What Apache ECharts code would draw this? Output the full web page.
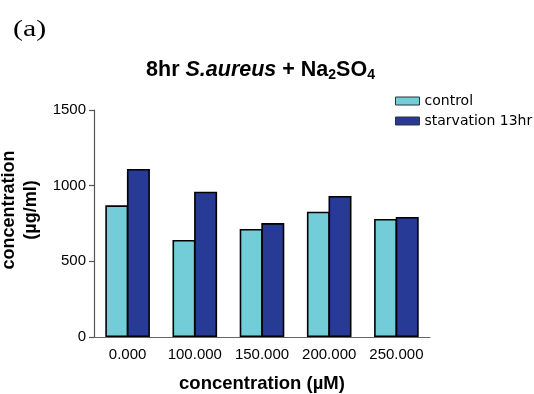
<!DOCTYPE html>
<html>
<head>
<meta charset="utf-8">
<script src="https://cdn.jsdelivr.net/npm/echarts@6/dist/echarts.min.js"></script>
<style>
  html, body { margin: 0; padding: 0; background: #fff; }
  #chart { width: 534px; height: 394px; }
</style>
</head>
<body>
<div id="chart"></div>
<script>
// Sulfate concentrations tested (µM)
const categories = ['0.000', '100.000', '150.000', '200.000', '250.000'];
// Measured concentration (µg/ml) per condition
const controlValues = [870, 641, 714, 828, 780];
const starvationValues = [1110, 960, 753, 932, 793];
const seriesNames = ['control', 'starvation 13hr'];
const yTicks = { min: 0, max: 1500, interval: 500 };

const SANS = 'Liberation Sans, Arial, Helvetica, sans-serif';
const chart = echarts.init(document.getElementById('chart'), null, { renderer: 'canvas' });

const barBorder = { borderColor: '#000', borderWidth: 1.6 };

chart.setOption({
  animation: false,
  backgroundColor: '#fff',
  graphic: [
    {
      // panel letter
      type: 'text',
      left: 13,
      top: 18,
      scaleX: 1.3,
      style: { text: '(a)', font: 'normal 23px "Liberation Serif", "Times New Roman", serif', fill: '#000' }
    }
  ],
  title: {
    text: '{b|8hr }{i|S.aureus}{b| + Na}{s|2}{b|SO}{s|4}',
    left: 255.5,
    top: 53,
    textAlign: 'center',
    textStyle: {
      rich: {
        b: { fontFamily: SANS, fontSize: 21.5, fontWeight: 'bold', color: '#000', lineHeight: 24 },
        i: { fontFamily: SANS, fontSize: 21.5, fontWeight: 'bold', fontStyle: 'italic', color: '#000', lineHeight: 24 },
        s: { fontFamily: SANS, fontSize: 14, fontWeight: 'bold', color: '#000', lineHeight: 10, verticalAlign: 'bottom' }
      }
    }
  },
  legend: {
    orient: 'vertical',
    left: 395,
    top: 94,
    padding: 0,
    itemWidth: 24,
    itemHeight: 8,
    itemGap: 6,
    textStyle: { fontFamily: 'DejaVu Sans, sans-serif', fontSize: 14, color: '#000', lineHeight: 14 },
    data: seriesNames.map(n => ({ name: n, icon: 'rect', itemStyle: { borderColor: '#333', borderWidth: 1 } }))
  },
  grid: { left: 94, right: 104, top: 110, bottom: 57, containLabel: false, outerBoundsMode: 'none' },
  xAxis: {
    type: 'category',
    data: categories,
    name: 'concentration (µM)',
    nameLocation: 'middle',
    nameGap: 37,
    nameTextStyle: { fontFamily: SANS, fontSize: 18.5, fontWeight: 'bold', color: '#000' },
    axisLine: { lineStyle: { color: '#666', width: 1.2 } },
    axisTick: { show: false },
    axisLabel: { fontFamily: SANS, fontSize: 15, color: '#000', margin: 10, interval: 0 }
  },
  yAxis: {
    type: 'value',
    min: yTicks.min,
    max: yTicks.max,
    interval: yTicks.interval,
    name: 'concentration\n(µg/ml)',
    nameLocation: 'middle',
    nameRotate: 90,
    nameGap: 50,
    nameTextStyle: { fontFamily: SANS, fontSize: 18, fontWeight: 'bold', color: '#000', lineHeight: 22, padding: [0, 0, 0, 27] },
    axisLine: { show: true, lineStyle: { color: '#555', width: 1.2 } },
    axisTick: { show: true, length: 5, lineStyle: { color: '#555', width: 1.2 } },
    splitLine: { show: false },
    axisLabel: { fontFamily: SANS, fontSize: 15, color: '#000', margin: 8, formatter: v => String(v) }
  },
  series: [
    {
      name: seriesNames[0],
      type: 'bar',
      data: controlValues,
      barWidth: 23,
      barGap: '-6%',
      itemStyle: Object.assign({ color: '#72CDD9' }, barBorder)
    },
    {
      name: seriesNames[1],
      type: 'bar',
      data: starvationValues,
      barWidth: 23,
      barGap: '-6%',
      itemStyle: Object.assign({ color: '#263A96' }, barBorder)
    }
  ]
});
</script>
</body>
</html>
